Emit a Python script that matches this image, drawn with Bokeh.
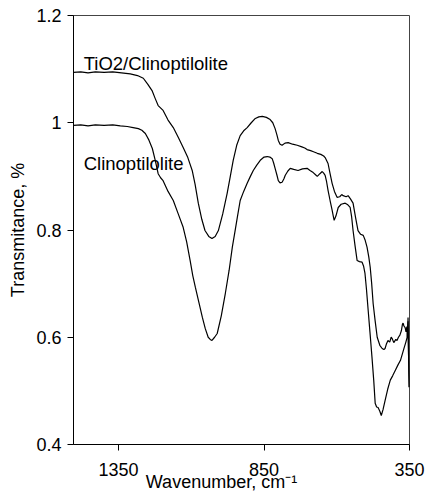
from bokeh.plotting import figure
from bokeh.models import Range1d, FixedTicker, Label
from bokeh.embed import file_html
from bokeh.resources import INLINE

# ---- data ----
tio2_wn = [1505, 1480, 1455, 1430, 1400, 1370, 1340, 1310, 1285, 1265, 1250, 1235, 1224, 1214,
           1197, 1180, 1162, 1145, 1128, 1112, 1097, 1087, 1076, 1064, 1053, 1040, 1029, 1018,
           1007, 992, 977, 966, 956, 944, 932, 920, 908, 894, 880, 868, 856, 842, 829, 820,
           812, 806, 801, 795, 788, 778, 767, 752, 736, 720, 710, 702, 690, 680, 667, 655,
           645, 640, 630, 623, 616, 608, 599, 590, 583, 578, 568, 561, 553, 544, 535, 527,
           518, 509, 503, 496, 490, 485, 480, 475, 468, 461, 452, 444, 438, 434, 429, 424,
           418, 413, 410, 404, 397, 393, 388, 383, 378, 374, 372, 369, 365, 362, 359, 357,
           355, 353, 351]
tio2_t = [1.094, 1.095, 1.093, 1.095, 1.094, 1.095, 1.093, 1.091, 1.088, 1.083, 1.072, 1.060, 1.045, 1.032,
          1.023, 1.005, 0.991, 0.973, 0.954, 0.935, 0.911, 0.885, 0.850, 0.820, 0.799, 0.788, 0.784, 0.788,
          0.799, 0.830, 0.868, 0.900, 0.930, 0.958, 0.976, 0.985, 0.991, 1.000, 1.008, 1.011, 1.012, 1.010, 1.006, 1.000,
          0.989, 0.978, 0.967, 0.960, 0.958, 0.962, 0.963, 0.960, 0.958, 0.955, 0.953, 0.950, 0.948, 0.946, 0.943, 0.941,
          0.938, 0.935, 0.924, 0.905, 0.887, 0.872, 0.861, 0.862, 0.866, 0.864, 0.862, 0.864, 0.858, 0.850, 0.822, 0.799,
          0.792, 0.790, 0.782, 0.768, 0.750, 0.730, 0.700, 0.663, 0.630, 0.600, 0.585, 0.579, 0.577, 0.579, 0.588, 0.594,
          0.591, 0.600, 0.598, 0.590, 0.596, 0.594, 0.600, 0.604, 0.612, 0.625, 0.626, 0.621, 0.618, 0.610, 0.620, 0.600,
          0.637, 0.560, 0.507]

clino_wn = [1505, 1480, 1455, 1430, 1400, 1370, 1344, 1320, 1300, 1282, 1270, 1258, 1246, 1234,
            1224, 1214, 1205, 1197, 1180, 1162, 1145, 1128, 1116, 1104, 1095, 1086, 1074, 1062,
            1052, 1042, 1035, 1029, 1020, 1011, 997, 983, 970, 959, 950, 942, 932, 920, 908,
            897, 887, 875, 863, 850, 839, 830, 822, 817, 812, 806, 801, 795, 788, 782, 777,
            768, 760, 748, 733, 718, 702, 692, 681, 673, 667, 658, 650, 645, 640, 635, 630,
            623, 616, 612, 609, 603, 595, 585, 571, 562, 554, 549, 544, 537, 530, 522, 513,
            508, 503, 498, 492, 486, 479, 473, 468, 463, 458, 452, 447, 441, 434, 425, 416,
            408, 399, 390, 381, 374, 368, 363, 358, 356, 355, 354, 353, 351]
clino_t = [0.995, 0.996, 0.994, 0.996, 0.995, 0.996, 0.994, 0.993, 0.991, 0.989, 0.986, 0.980, 0.968, 0.952,
           0.930, 0.905, 0.897, 0.892, 0.872, 0.855, 0.830, 0.805, 0.778, 0.743, 0.715, 0.693, 0.665, 0.637,
           0.616, 0.600, 0.596, 0.594, 0.600, 0.607, 0.640, 0.682, 0.725, 0.768, 0.797, 0.823, 0.855, 0.872, 0.887,
           0.900, 0.911, 0.921, 0.930, 0.936, 0.937, 0.936, 0.933, 0.925, 0.915, 0.903, 0.892, 0.888, 0.889, 0.895, 0.902,
           0.910, 0.915, 0.913, 0.911, 0.914, 0.915, 0.911, 0.907, 0.903, 0.900, 0.905, 0.909, 0.906, 0.902, 0.890, 0.874,
           0.855, 0.837, 0.826, 0.818, 0.826, 0.842, 0.848, 0.850, 0.847, 0.842, 0.825, 0.799, 0.770, 0.743, 0.741, 0.740,
           0.733, 0.719, 0.690, 0.650, 0.610, 0.563, 0.520, 0.477, 0.470, 0.469, 0.462, 0.454, 0.465, 0.482, 0.503, 0.520,
           0.528, 0.538, 0.548, 0.557, 0.570, 0.581, 0.590, 0.600, 0.620, 0.630, 0.590, 0.560, 0.507]

x_ticks = [1350, 850, 350]
y_ticks = [0.4, 0.6, 0.8, 1.0, 1.2]
y_tick_labels = ["0.4", "0.6", "0.8", "1", "1.2"]

series_labels = ["TiO2/Clinoptilolite", "Clinoptilolite"]
label_pos = [(1470, 1.111), (1470, 0.924)]

x_title = "Wavenumber, cm\u207b\u00b9" + "\u00a0" * 8
y_title = "Transmitance, %"

FONT = "Liberation Sans"

p = figure(frame_width=336, frame_height=429,
           x_range=Range1d(1505, 350), y_range=Range1d(0.4, 1.2),
           output_backend="svg", toolbar_location=None,
           min_border_left=73, min_border_right=19, min_border_top=15, min_border_bottom=48)
p.background_fill_color = "white"
p.border_fill_color = "white"
p.outline_line_color = "#444444"
p.outline_line_width = 1
p.xgrid.visible = False
p.ygrid.visible = False

p.line(tio2_wn, tio2_t, line_color="black", line_width=1.2)
p.line(clino_wn, clino_t, line_color="black", line_width=1.2)

for txt, (lx, ly) in zip(series_labels, label_pos):
    p.add_layout(Label(x=lx, y=ly, text=txt, text_font=FONT, text_font_size="18.5px",
                       text_align="left", text_baseline="alphabetic", text_color="black"))

for ax in (p.xaxis[0], p.yaxis[0]):
    ax.axis_line_color = "black"
    ax.axis_line_width = 1
    ax.major_tick_line_color = "black"
    ax.major_tick_in = 0
    ax.major_tick_out = 6
    ax.minor_tick_line_color = None
    ax.major_label_text_font = FONT
    ax.major_label_text_font_size = "18px"
    ax.major_label_text_color = "black"
    ax.axis_label_text_font = FONT
    ax.axis_label_text_font_size = "18px"
    ax.axis_label_text_font_style = "normal"
    ax.axis_label_text_color = "black"

p.xaxis.ticker = FixedTicker(ticks=x_ticks)
p.xaxis.major_label_standoff = 12
p.xaxis.axis_label = x_title
p.xaxis.axis_label_standoff = -7

p.yaxis.ticker = FixedTicker(ticks=y_ticks)
p.yaxis.major_label_overrides = {t: s for t, s in zip(y_ticks, y_tick_labels)}
p.yaxis.major_label_standoff = 6
p.yaxis.axis_label = y_title
p.yaxis.axis_label_standoff = 5

open("out.html", "w").write(file_html(p, INLINE))
